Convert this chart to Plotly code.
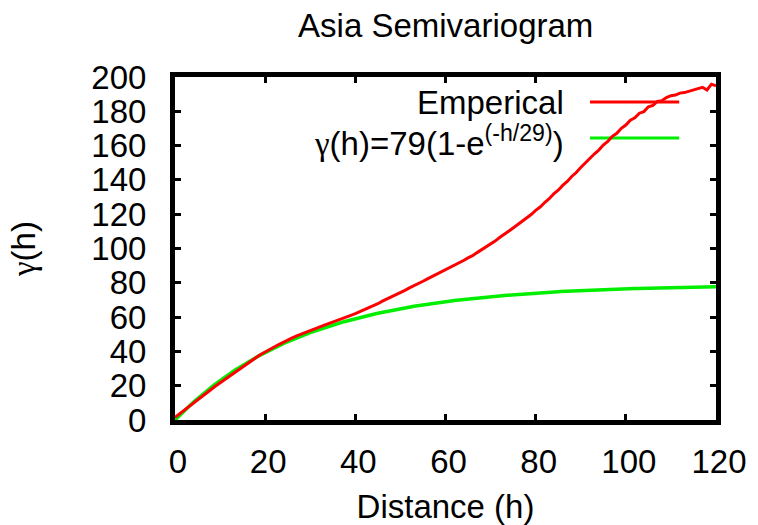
import numpy as np
import plotly.graph_objects as go

# Empirical semivariogram, lag distance h = 0..120
distance = list(range(0, 121))
empirical = [
    1.5, 3.6, 5.7, 7.7, 9.8, 11.8, 13.8, 15.8, 17.8, 19.8,
    21.7, 23.6, 25.5, 27.4, 29.3, 31.1, 32.9, 34.7, 36.4, 38.2,
    39.8, 41.2, 42.6, 44.0, 45.4, 46.7, 47.9, 49.1, 50.2, 51.3,
    52.3, 53.3, 54.2, 55.2, 56.1, 57.0, 58.0, 59.0, 60.0, 61.0,
    62.0, 63.1, 64.2, 65.4, 66.6, 67.8, 69.3, 70.5, 71.8, 73.0,
    74.4, 75.6, 77.0, 78.2, 79.6, 80.9, 82.3, 83.6, 84.9, 86.4,
    87.6, 89.0, 90.3, 91.8, 93.0, 94.5, 95.8, 97.6, 99.2, 100.8,
    102.6, 104.3, 106.4, 108.0, 110.1, 112.0, 113.9, 115.8, 117.9, 119.8,
    122.2, 124.2, 126.8, 129.0, 131.8, 134.0, 136.8, 139.1, 142.0, 144.3,
    147.2, 149.6, 152.5, 155.1, 157.4, 160.3, 162.4, 165.4, 167.2, 170.1,
    172.0, 174.8, 176.2, 178.9, 179.8, 182.6, 183.4, 185.8, 186.2, 188.0,
    189.1, 189.5, 190.6, 190.9, 191.8, 192.3, 193.2, 194.0, 192.4, 195.8,
    194.9,
]

# Fitted exponential model: gamma(h) = sill * (1 - exp(-h / range))
sill = 79
model_range = 29
model_h = np.linspace(0, 120, 241)
model_gamma = sill * (1 - np.exp(-model_h / model_range))

x_ticks = [0, 20, 40, 60, 80, 100, 120]
y_ticks = [0, 20, 40, 60, 80, 100, 120, 140, 160, 180, 200]

FONT = "Liberation Sans, Arial, Helvetica, sans-serif"
FS = 33
RED = "#ff0000"
GREEN = "#00ee00"
GAMMA = "<span style=\"font-family:'Liberation Serif', 'DejaVu Serif', serif\">γ</span>"

fig = go.Figure()
fig.add_trace(go.Scatter(x=model_h, y=model_gamma, mode="lines",
                         line=dict(color=GREEN, width=3.5), name="model"))
fig.add_trace(go.Scatter(x=distance, y=empirical, mode="lines",
                         line=dict(color=RED, width=3), name="Emperical"))

# Key: label on the left, line sample on the right
key_rows = [
    ("Emperical", RED, 0.927, 0.927),
    (GAMMA + "(h)=79(1-e<sup>(-h/29)</sup>)", GREEN, 0.822, 0.812),
]
for label, color, y_line, y_text in key_rows:
    fig.add_annotation(xref="paper", yref="paper", x=0.722, y=y_text,
                       text=label, showarrow=False, xanchor="right",
                       yanchor="middle", font=dict(size=FS, color="black", family=FONT))
    fig.add_shape(type="line", xref="paper", yref="paper",
                  x0=0.767, x1=0.932, y0=y_line, y1=y_line,
                  line=dict(color=color, width=3), layer="below")

axis_common = dict(
    showline=True, linecolor="black", linewidth=5, mirror="allticks",
    ticks="inside", ticklen=6, tickwidth=3, tickcolor="black",
    showgrid=False, zeroline=False, automargin=False,
    tickfont=dict(size=FS, color="black", family=FONT),
)

fig.update_layout(
    width=758, height=525,
    margin=dict(l=175, r=42, t=77, b=105, autoexpand=False),
    paper_bgcolor="white", plot_bgcolor="white",
    showlegend=False,
    title=dict(text="Asia Semivariogram", x=0.588, xanchor="center",
               y=0.952, yanchor="middle",
               font=dict(size=FS, color="black", family=FONT)),
    xaxis=dict(range=[0, 120], tickvals=x_ticks, ticklabelstandoff=8,
               ticklabelshift=3,
               title=dict(text="Distance (h)", standoff=19,
                          font=dict(size=FS, color="black", family=FONT)),
               **axis_common),
    yaxis=dict(range=[0, 200], tickvals=y_ticks, ticklabelstandoff=17,
               title=dict(text=GAMMA + "(h)", standoff=47,
                          font=dict(size=FS, color="black", family=FONT)),
               **axis_common),
)

fig.write_html("out.html")
